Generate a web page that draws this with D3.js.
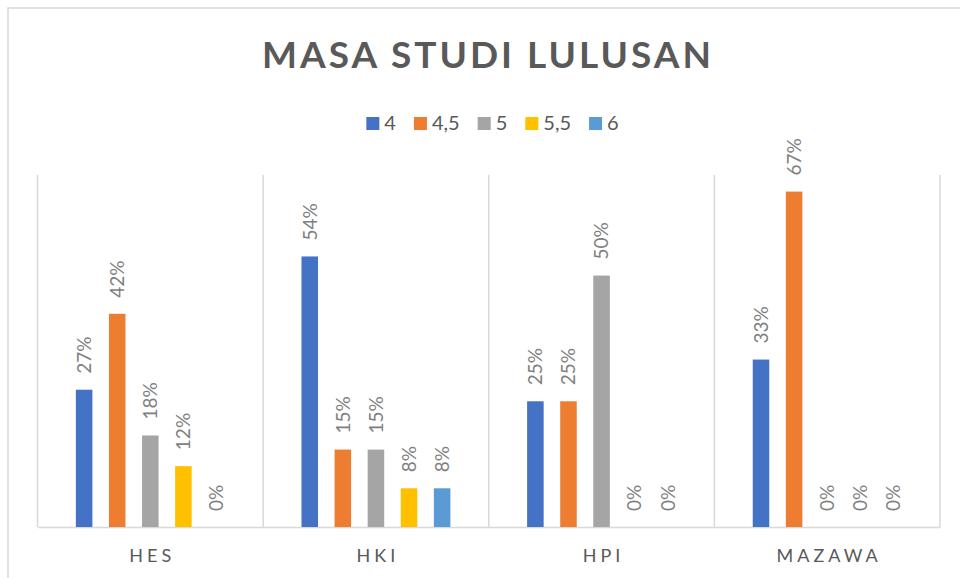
<!DOCTYPE html>
<html><head><meta charset="utf-8">
<script src="https://cdn.jsdelivr.net/npm/d3@7"></script>
<style>html,body{margin:0;padding:0;background:#fff;} svg{display:block;}</style>
</head><body>
<svg id="chart" width="960" height="578"></svg>
<script>
const title = "MASA STUDI LULUSAN";
const categories = ["HES", "HKI", "HPI", "MAZAWA"];
const seriesNames = ["4", "4,5", "5", "5,5", "6"];
const seriesColors = ["#4472C4", "#ED7D31", "#A5A5A5", "#FFC000", "#5B9BD5"];
const s4   = [0.273, 0.538, 0.25, 0.333];
const s45  = [0.424, 0.154, 0.25, 0.667];
const s5   = [0.182, 0.154, 0.50, 0];
const s55  = [0.121, 0.077, 0, 0];
const s6   = [0, 0.077, 0, 0];
const seriesValues = [s4, s45, s5, s55, s6];
const yMax = 0.7;

const FONT = "Lato, 'Open Sans', sans-serif";
const svg = d3.select("#chart");
const plot = {left: 37.5, right: 940, top: 175, bottom: 527};

// outer border
svg.append("rect").attr("x", 8).attr("y", 8).attr("width", 1200).attr("height", 1200)
  .attr("fill", "none").attr("stroke", "#d9d9d9").attr("stroke-width", 1.5);

const x0 = d3.scaleBand().domain(categories).range([plot.left, plot.right]).padding(0);
const bw = x0.bandwidth();
const barW = bw * 16.5 / 225;
const start = (bw - 9 * barW) / 2;
const x1 = d3.scaleBand().domain(seriesNames)
  .range([start, start + 9 * barW]).paddingInner(0.5).paddingOuter(0);
const y = d3.scaleLinear().domain([0, yMax]).range([plot.bottom, plot.top]);

// vertical category separators
const seps = categories.map(c => x0(c)).concat([plot.right]);
svg.append("g").selectAll("line").data(seps).join("line")
  .attr("x1", d => d).attr("x2", d => d)
  .attr("y1", plot.top).attr("y2", plot.bottom)
  .attr("stroke", "#d9d9d9").attr("stroke-width", 1.5);

// baseline axis
const xAxis = d3.axisBottom(x0).tickSize(0).tickPadding(0);
const ax = svg.append("g").attr("transform", `translate(0,${plot.bottom})`).call(xAxis);
ax.select(".domain").attr("stroke", "#d9d9d9").attr("stroke-width", 1.5);
ax.selectAll("text").attr("dy", null).attr("y", 35)
  .style("font-family", FONT).style("font-size", "18px").style("letter-spacing", "4px")
  .attr("fill", "#595959").attr("text-anchor", "middle")
  .attr("dx", "2px");

// bars
const fmt = d3.format(".0%");
const groups = svg.append("g").selectAll("g").data(categories).join("g")
  .attr("transform", c => `translate(${x0(c)},0)`);
seriesNames.forEach((s, si) => {
  groups.append("rect")
    .attr("x", () => x1(s))
    .attr("width", x1.bandwidth())
    .attr("y", (c, ci) => y(seriesValues[si][ci]))
    .attr("height", (c, ci) => y(0) - y(seriesValues[si][ci]))
    .attr("fill", seriesColors[si]);
  groups.append("text")
    .attr("transform", (c, ci) => `translate(${x1(s) + x1.bandwidth() / 2},${y(seriesValues[si][ci]) - 16}) rotate(-90)`)
    .attr("dy", "0.36em")
    .attr("text-anchor", "start")
    .style("font-family", FONT).style("font-size", "19px")
    .attr("fill", "#7f7f7f")
    .text((c, ci) => fmt(seriesValues[si][ci]));
});

// title
svg.append("text").attr("x", 488).attr("y", 68)
  .attr("text-anchor", "middle")
  .style("font-family", FONT).style("font-size", "37px").style("font-weight", "bold")
  .style("letter-spacing", "3px")
  .attr("fill", "#595959").text(title);

// legend
const lg = svg.append("g");
const items = lg.selectAll("g").data(seriesNames).join("g");
items.append("rect").attr("width", 13).attr("height", 13).attr("y", 117)
  .attr("fill", (d, i) => seriesColors[i]);
items.append("text").attr("x", 18).attr("y", 130)
  .style("font-family", FONT).style("font-size", "20px")
  .attr("fill", "#595959").text(d => d);
let cx = 0;
items.each(function() {
  const g = d3.select(this);
  g.attr("transform", `translate(${cx},0)`);
  cx += 18 + g.select("text").node().getComputedTextLength() + 18;
});
const legendW = cx - 18;
lg.attr("transform", `translate(${492.5 - legendW / 2},0)`);
</script>
</body></html>
